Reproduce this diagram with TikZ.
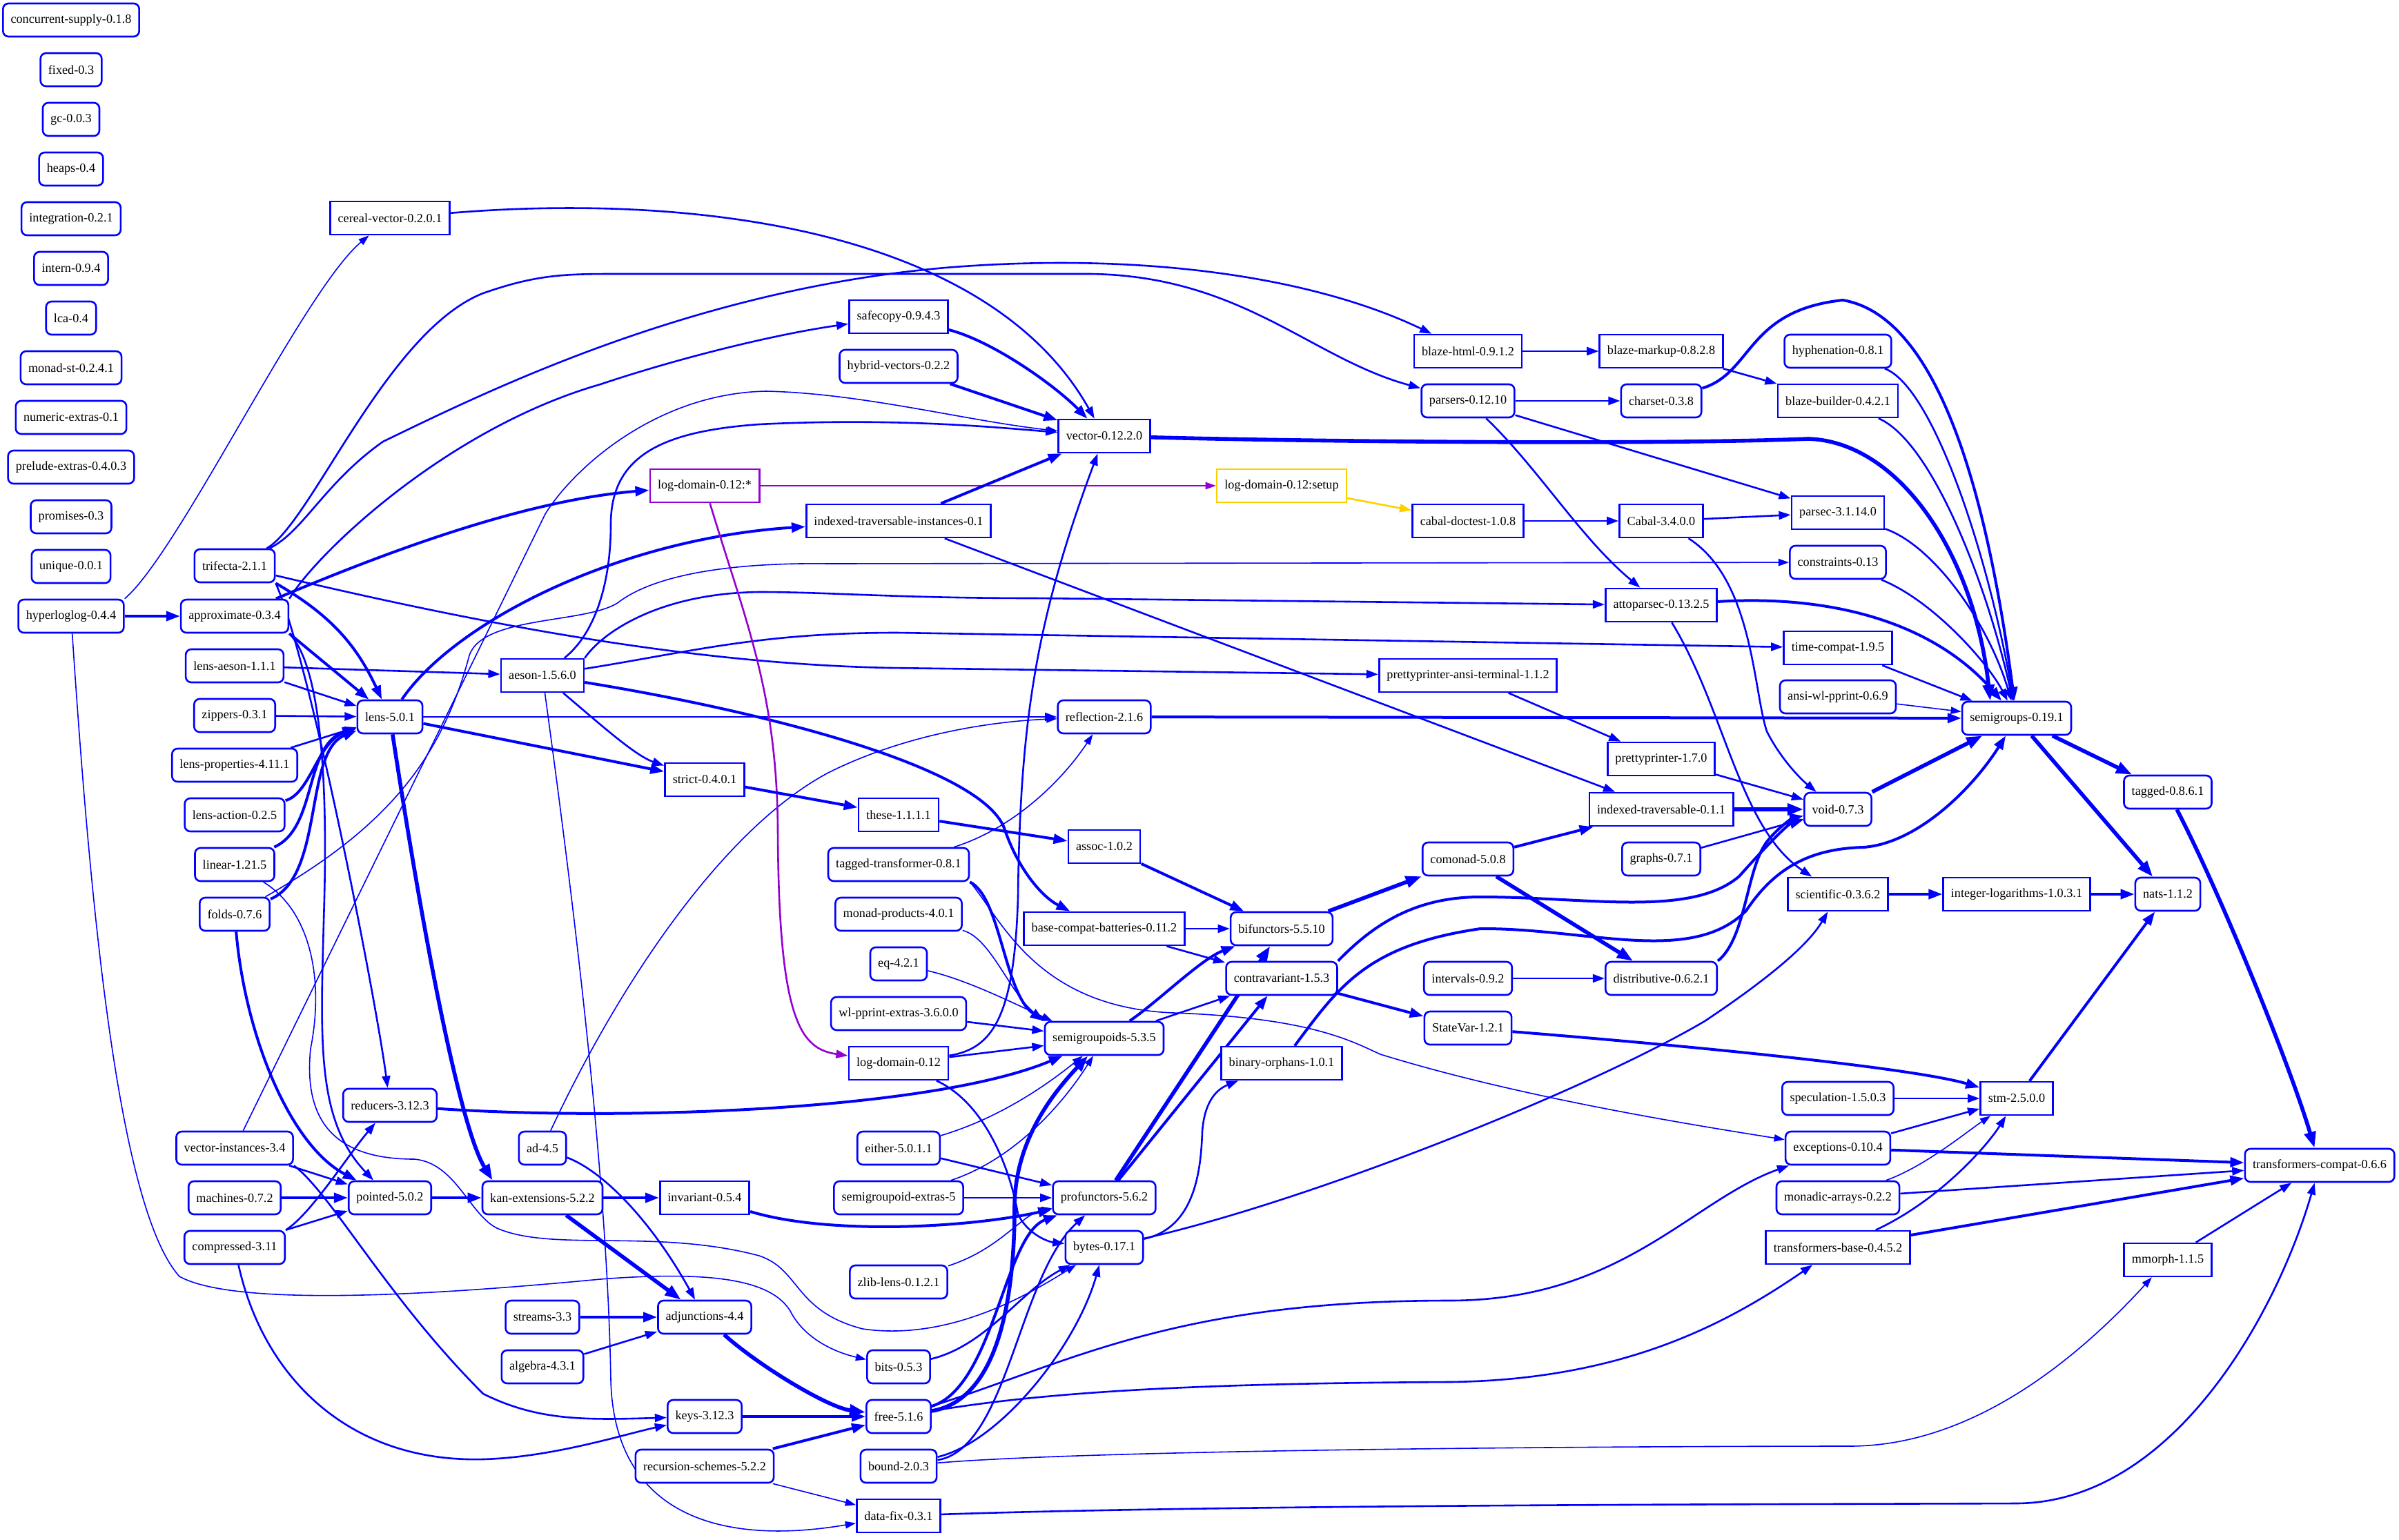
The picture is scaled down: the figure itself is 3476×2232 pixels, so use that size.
\documentclass[tikz,border=0pt]{standalone}
\usepackage{fontspec}
\setmainfont{Liberation Serif}
\usetikzlibrary{arrows.meta,backgrounds}

\definecolor{logpurple}{RGB}{148,0,211}
\definecolor{setupgold}{RGB}{255,208,0}

\tikzset{
	pkg/.style={draw=blue, line width=1.3pt, rounded corners=4pt, fill=white,
		minimum height=24pt, inner xsep=5.6pt, inner ysep=0pt,
		font=\fontsize{9.1}{10}\selectfont},
	lib/.style={pkg, sharp corners},
	dep/.style={draw=blue, -{Triangle[length=6pt 2, width=4pt 1.5]}},
	lite/.style={dep, line width=0.8pt},
	mid/.style={dep, line width=1.3pt},
	strong/.style={dep, line width=2pt},
	heavy/.style={dep, line width=2.8pt},
}

\begin{document}
\begin{tikzpicture}[x=0.5pt, y=-0.5pt]

	\useasboundingbox (0,0) rectangle (3476,2232);

% Paquetes sueltos
	\foreach \nm/\lbl [count=\i from 0] in {csupply/concurrent-supply-0.1.8, fixed/fixed-0.3,
		gc/gc-0.0.3, heaps/heaps-0.4, integration/integration-0.2.1, intern/intern-0.9.4,
		lca/lca-0.4, monadst/monad-st-0.2.4.1, numextras/numeric-extras-0.1,
		prelextras/prelude-extras-0.4.0.3, promises/promises-0.3, unique/unique-0.0.1}
		\node[pkg] (\nm) at (103,{29+72*\i}) {\lbl};

% Columnas 1 a 4
	\node[pkg] (hll) at (103,893) {hyperloglog-0.4.4};
	\node[lib] (cereal) at (565,316) {cereal-vector-0.2.0.1};
	\node[pkg] (trifecta) at (340,820) {trifecta-2.1.1};
	\node[pkg] (approx) at (340,893) {approximate-0.3.4};
	\node[pkg] (lensaeson) at (340,965) {lens-aeson-1.1.1};
	\node[pkg] (zippers) at (340,1037) {zippers-0.3.1};
	\node[pkg] (lensprop) at (340,1109) {lens-properties-4.11.1};
	\node[pkg] (lensaction) at (340,1181) {lens-action-0.2.5};
	\node[pkg] (linear) at (340,1253) {linear-1.21.5};
	\node[pkg] (folds) at (340,1325) {folds-0.7.6};
	\node[pkg] (vecinst) at (340,1664) {vector-instances-3.4};
	\node[pkg] (machines) at (340,1736) {machines-0.7.2};
	\node[pkg] (compressed) at (340,1808) {compressed-3.11};
	\node[pkg] (lens) at (565,1039) {lens-5.0.1};
	\node[pkg] (reducers) at (565,1602) {reducers-3.12.3};
	\node[pkg] (pointed) at (565,1736) {pointed-5.0.2};
	\node[lib] (aeson) at (786,979) {aeson-1.5.6.0};
	\node[pkg] (ad) at (786,1664) {ad-4.5};
	\node[pkg] (kan) at (786,1736) {kan-extensions-5.2.2};
	\node[pkg] (streams) at (786,1909) {streams-3.3};
	\node[pkg] (algebra) at (786,1981) {algebra-4.3.1};

% Columnas 5 a 8
	\node[lib, draw=logpurple] (logstar) at (1021,704) {log-domain-0.12:*};
	\node[lib] (strict) at (1021,1130) {strict-0.4.0.1};
	\node[lib] (invariant) at (1021,1736) {invariant-0.5.4};
	\node[pkg] (adjunctions) at (1021,1909) {adjunctions-4.4};
	\node[pkg] (keys) at (1021,2053) {keys-3.12.3};
	\node[pkg] (recschemes) at (1021,2125) {recursion-schemes-5.2.2};
	\node[lib] (safecopy) at (1302,459) {safecopy-0.9.4.3};
	\node[pkg] (hybrid) at (1302,531) {hybrid-vectors-0.2.2};
	\node[lib] (iti) at (1302,755) {indexed-traversable-instances-0.1};
	\node[lib] (these) at (1302,1181) {these-1.1.1.1};
	\node[pkg] (taggedtr) at (1302,1253) {tagged-transformer-0.8.1};
	\node[pkg] (monadprod) at (1302,1325) {monad-products-4.0.1};
	\node[pkg] (eq) at (1302,1397) {eq-4.2.1};
	\node[pkg] (wlpprint) at (1302,1469) {wl-pprint-extras-3.6.0.0};
	\node[lib] (logdomain) at (1302,1541) {log-domain-0.12};
	\node[pkg] (either) at (1302,1664) {either-5.0.1.1};
	\node[pkg] (sgextras) at (1302,1736) {semigroupoid-extras-5};
	\node[pkg] (zliblens) at (1302,1858) {zlib-lens-0.1.2.1};
	\node[pkg] (bits) at (1302,1981) {bits-0.5.3};
	\node[pkg] (free) at (1302,2053) {free-5.1.6};
	\node[pkg] (bound) at (1302,2125) {bound-2.0.3};
	\node[lib] (datafix) at (1302,2197) {data-fix-0.3.1};
	\node[lib] (vector) at (1600,632) {vector-0.12.2.0};
	\node[pkg] (reflection) at (1600,1039) {reflection-2.1.6};
	\node[lib] (assoc) at (1600,1227) {assoc-1.0.2};
	\node[lib] (bcb) at (1600,1346) {base-compat-batteries-0.11.2};
	\node[pkg] (sgoids) at (1600,1505) {semigroupoids-5.3.5};
	\node[pkg] (profunctors) at (1600,1736) {profunctors-5.6.2};
	\node[pkg] (bytes) at (1600,1808) {bytes-0.17.1};
	\node[lib, draw=setupgold] (logsetup) at (1857,704) {log-domain-0.12:setup};
	\node[pkg] (bifunctors) at (1857,1346) {bifunctors-5.5.10};
	\node[pkg] (contravariant) at (1857,1418) {contravariant-1.5.3};
	\node[lib] (binorph) at (1857,1541) {binary-orphans-1.0.1};

% Columnas 9 a 14
	\node[lib] (blazehtml) at (2127,509) {blaze-html-0.9.1.2};
	\node[pkg] (parsers) at (2127,581) {parsers-0.12.10};
	\node[lib] (cabaldoctest) at (2127,755) {cabal-doctest-1.0.8};
	\node[lib] (ppat) at (2127,979) {prettyprinter-ansi-terminal-1.1.2};
	\node[pkg] (comonad) at (2127,1245) {comonad-5.0.8};
	\node[pkg] (intervals) at (2127,1418) {intervals-0.9.2};
	\node[pkg] (statevar) at (2127,1490) {StateVar-1.2.1};
	\node[lib] (blazemarkup) at (2407,509) {blaze-markup-0.8.2.8};
	\node[pkg] (charset) at (2407,581) {charset-0.3.8};
	\node[lib] (cabal) at (2407,755) {Cabal-3.4.0.0};
	\node[lib] (attoparsec) at (2407,877) {attoparsec-0.13.2.5};
	\node[lib] (pp) at (2407,1100) {prettyprinter-1.7.0};
	\node[lib] (itrav) at (2407,1173) {indexed-traversable-0.1.1};
	\node[pkg] (graphs) at (2407,1245) {graphs-0.7.1};
	\node[pkg] (distributive) at (2407,1418) {distributive-0.6.2.1};
	\node[pkg] (hyphenation) at (2663,509) {hyphenation-0.8.1};
	\node[lib] (blazebuilder) at (2663,581) {blaze-builder-0.4.2.1};
	\node[lib] (parsec) at (2663,743) {parsec-3.1.14.0};
	\node[pkg] (constraints) at (2663,815) {constraints-0.13};
	\node[lib] (timecompat) at (2663,939) {time-compat-1.9.5};
	\node[pkg] (ansiwl) at (2663,1010) {ansi-wl-pprint-0.6.9};
	\node[pkg] (void) at (2663,1173) {void-0.7.3};
	\node[lib] (scientific) at (2663,1296) {scientific-0.3.6.2};
	\node[pkg] (speculation) at (2663,1592) {speculation-1.5.0.3};
	\node[pkg] (exceptions) at (2663,1664) {exceptions-0.10.4};
	\node[pkg] (monarrays) at (2663,1736) {monadic-arrays-0.2.2};
	\node[lib] (transbase) at (2663,1808) {transformers-base-0.4.5.2};
	\node[pkg] (semigroups) at (2922,1041) {semigroups-0.19.1};
	\node[lib] (intlog) at (2922,1296) {integer-logarithms-1.0.3.1};
	\node[lib] (stm) at (2922,1592) {stm-2.5.0.0};
	\node[pkg] (tagged) at (3141,1148) {tagged-0.8.6.1};
	\node[pkg] (nats) at (3141,1296) {nats-1.1.2};
	\node[lib] (mmorph) at (3141,1826) {mmorph-1.1.5};
	\node[pkg] (transcompat) at (3361,1689) {transformers-compat-0.6.6};

\begin{scope}[on background layer]
% Dependencias, lado izquierdo
	\draw[strong] (hll) -- (approx);
	\draw[lite] (hll.north east) .. controls (260,800) and (440,420) .. (cereal);
	\draw[lite] (hll) .. controls (130,1300) and (170,1750) .. (260,1850) .. controls (350,1900) and (700,1870) .. (870,1854) .. controls (1050,1840) and (1120,1860) .. (1145,1900) .. controls (1165,1940) and (1210,1960) .. (bits);
	\draw[strong] (trifecta.south east) to[out=-30,in=115] (lens);
	\draw[mid] (trifecta.south east) .. controls (450,960) and (545,1450) .. (reducers);
	\draw[mid] (trifecta) .. controls (700,905) and (1000,962) .. (1290,968) -- (ppat);
	\draw[mid] (trifecta) .. controls (440,770) and (470,700) .. (555,640) .. controls (700,570) and (1000,420) .. (1370,388) .. controls (1650,365) and (1900,400) .. (blazehtml);
	\draw[mid] (trifecta) .. controls (450,760) and (560,480) .. (700,425) .. controls (780,397) and (820,397) .. (900,397) -- (1580,397) .. controls (1800,400) and (1900,520) .. (parsers);
	\draw[strong] (approx.south east) -- (lens);
	\draw[strong] (approx) .. controls (560,800) and (760,725) .. (logstar);
	\draw[mid] (approx.north east) .. controls (460,800) and (650,620) .. (870,557) .. controls (980,520) and (1120,485) .. (safecopy);
	\draw[mid] (approx.south east) .. controls (460,960) and (475,1100) .. (470,1300) .. controls (465,1500) and (455,1620) .. (pointed);
	\draw[mid] (lensaeson) -- (lens);
	\draw[mid] (lensaeson) -- (aeson);
	\draw[mid] (zippers) -- (lens);
	\draw[mid] (lensprop) -- (lens);
	\draw[strong] (lensaction) .. controls (450,1150) and (460,1075) .. (lens);
	\draw[strong] (linear) .. controls (460,1200) and (440,1080) .. (lens);
	\draw[strong] (folds) .. controls (470,1270) and (440,1090) .. (lens);
	\draw[strong] (folds) .. controls (355,1500) and (420,1660) .. (pointed);
	\draw[lite] (folds) .. controls (560,1200) and (640,1100) .. (680,950) .. controls (700,890) and (860,905) .. (900,870) .. controls (950,835) and (1050,815) .. (1200,817) -- (constraints);
	\draw[lite] (linear) .. controls (450,1320) and (470,1420) .. (450,1520) .. controls (440,1620) and (480,1680) .. (600,1680) .. controls (660,1685) and (680,1760) .. (720,1780) .. controls (800,1815) and (950,1780) .. (1100,1820) .. controls (1160,1840) and (1150,1900) .. (1250,1926) .. controls (1380,1945) and (1500,1870) .. (bytes);
	\draw[strong] (lens) .. controls (660,900) and (900,780) .. (iti);
	\draw[mid] (lens) -- (reflection);
	\draw[strong] (lens) -- (strict);
	\draw[heavy] (lens) .. controls (620,1400) and (670,1640) .. ([xshift=8pt]kan.north west);
	\draw[mid] (aeson) .. controls (860,920) and (885,850) .. (885,760) .. controls (885,660) and (960,625) .. (1100,615) .. controls (1300,605) and (1450,620) .. (vector);
	\draw[mid] (aeson) .. controls (870,1050) and (920,1095) .. (strict);
	\draw[mid] (aeson.north east) .. controls (870,920) and (950,860) .. (1100,858) .. controls (1200,858) and (1300,867) .. (1500,867) -- (attoparsec);
	\draw[mid] (aeson) .. controls (1000,945) and (1100,917) .. (1300,917) -- (timecompat);
	\draw[strong] (aeson) .. controls (1100,1030) and (1420,1110) .. (1455,1200) .. controls (1475,1260) and (1510,1300) .. (bcb);
	\draw[lite] (aeson) .. controls (830,1300) and (880,1700) .. (885,2000) .. controls (890,2200) and (1050,2240) .. (datafix);
	\draw[lite] (vecinst) -- (790,745) .. controls (830,680) and (950,570) .. (1110,567) .. controls (1250,570) and (1400,610) .. (vector);
	\draw[mid] (vecinst) -- (pointed);
	\draw[mid] (vecinst.south east) .. controls (480,1730) and (560,1880) .. (700,2020) .. controls (780,2060) and (850,2058) .. (keys);
	\draw[strong] (machines) -- (pointed);
	\draw[mid] (compressed.north east) -- (pointed);
	\draw[mid] (compressed.north east) .. controls (450,1760) and (500,1680) .. (reducers);
	\draw[mid] (compressed) .. controls (380,1990) and (500,2120) .. (700,2115) .. controls (800,2112) and (900,2080) .. (keys);
	\draw[strong] (pointed) -- (kan);
	\draw[heavy] (kan) -- (adjunctions);
	\draw[strong] (kan) -- (invariant);
	\draw[mid] (ad) .. controls (880,1700) and (950,1780) .. (adjunctions);
	\draw[lite] (ad) .. controls (900,1420) and (1050,1200) .. (1200,1120) .. controls (1320,1060) and (1450,1045) .. (reflection);
	\draw[strong] (streams) -- (adjunctions);
	\draw[mid] (algebra) -- (adjunctions);

% Dependencias, centro
	\draw[heavy] (adjunctions) .. controls (1100,1980) and (1200,2040) .. (free);
	\draw[strong] (keys) -- (free);
	\draw[strong] (recschemes) -- (free);
	\draw[lite] (recschemes) -- (datafix);
	\draw[strong] (invariant) .. controls (1200,1790) and (1400,1780) .. (profunctors);
	\draw[lite, draw=logpurple] (logstar) -- (logsetup);
	\draw[mid, draw=logpurple] (logstar) .. controls (1080,900) and (1125,1000) .. (1127,1200) .. controls (1128,1480) and (1160,1520) .. (logdomain);
	\draw[mid, draw=setupgold] (logsetup) -- (cabaldoctest);
	\draw[strong] (safecopy) .. controls (1440,495) and (1530,560) .. (vector);
	\draw[strong] (hybrid) -- (vector);
	\draw[strong] (iti) -- (vector);
	\draw[mid] (cereal) .. controls (1000,280) and (1430,330) .. (vector);
	\draw[mid] (iti) -- (itrav);
	\draw[strong] (strict) -- (these);
	\draw[strong] (these) -- (assoc);
	\draw[strong] (assoc) -- (bifunctors);
	\draw[mid] (bcb) -- (bifunctors);
	\draw[mid] (bcb) -- (contravariant);
	\draw[lite] (taggedtr) .. controls (1470,1200) and (1540,1130) .. (reflection);
	\draw[strong] (taggedtr.south east) .. controls (1450,1300) and (1455,1440) .. (sgoids.north west);
	\draw[lite] (taggedtr.south east) .. controls (1450,1330) and (1500,1460) .. (1700,1468) .. controls (1900,1475) and (1960,1510) .. (2000,1528) .. controls (2200,1590) and (2450,1630) .. (exceptions);
	\draw[lite] (monadprod) .. controls (1440,1360) and (1470,1460) .. ([xshift=6pt]sgoids.north west);
	\draw[lite] (eq) .. controls (1400,1420) and (1460,1450) .. ([xshift=6pt]sgoids.north west);
	\draw[mid] (wlpprint) -- (sgoids);
	\draw[mid] (logdomain) -- (sgoids);
	\draw[mid] (logdomain) .. controls (1440,1520) and (1470,1470) .. (1475,1300) .. controls (1478,1050) and (1500,900) .. (vector);
	\draw[mid] (logdomain) .. controls (1430,1600) and (1465,1700) .. (1475,1760) .. controls (1490,1790) and (1520,1800) .. (bytes);
	\draw[strong] (reducers) .. controls (900,1625) and (1350,1610) .. (sgoids);
	\draw[lite] (either) .. controls (1450,1620) and (1520,1570) .. (sgoids);
	\draw[mid] (either) -- (profunctors);
	\draw[lite] (sgextras) .. controls (1470,1680) and (1540,1600) .. (sgoids);
	\draw[mid] (sgextras) -- (profunctors);
	\draw[lite] (zliblens) .. controls (1450,1810) and (1480,1760) .. (profunctors);
	\draw[heavy] (free) .. controls (1440,2030) and (1470,1900) .. (1470,1750) .. controls (1470,1650) and (1530,1580) .. (sgoids);
	\draw[strong] (free) .. controls (1440,2010) and (1455,1790) .. (profunctors);
	\draw[mid] (free) .. controls (1550,1975) and (1700,1885) .. (2100,1885) .. controls (2350,1885) and (2450,1740) .. (exceptions);
	\draw[mid] (free) .. controls (1500,2020) and (1700,2005) .. (2100,2003) .. controls (2350,2000) and (2500,1920) .. (transbase);
	\draw[mid] (bits) .. controls (1430,1950) and (1480,1870) .. (bytes);
	\draw[mid] (bound) .. controls (1450,2090) and (1560,1950) .. (bytes);
	\draw[mid] (bound) .. controls (1460,2100) and (1475,1850) .. (profunctors);
	\draw[lite] (bound) .. controls (1600,2100) and (2400,2096) .. (2680,2096) .. controls (2850,2096) and (3000,1980) .. (mmorph);
	\draw[mid] (datafix) .. controls (1800,2180) and (2700,2180) .. (2920,2179) .. controls (3150,2179) and (3300,1900) .. (transcompat);
	\draw[mid] (bytes) .. controls (1730,1780) and (1740,1700) .. (1742,1640) .. controls (1745,1600) and (1760,1580) .. (binorph);
	\draw[mid] (bytes) .. controls (1900,1740) and (2300,1580) .. (2470,1480) .. controls (2560,1420) and (2620,1370) .. (scientific);
	\draw[heavy] (profunctors) -- (bifunctors);
	\draw[strong] (profunctors) -- (contravariant);
	\draw[strong] (sgoids) .. controls (1680,1450) and (1740,1390) .. (bifunctors);
	\draw[mid] (sgoids) -- (contravariant);

% Dependencias, lado derecho
	\draw[mid] (cabaldoctest) -- (cabal);
	\draw[mid] (cabal) -- (parsec);
	\draw[mid] (cabal) .. controls (2540,840) and (2540,1000) .. (2560,1060) .. controls (2580,1100) and (2610,1130) .. (void);
	\draw[mid] (parsers) -- (charset);
	\draw[mid] (parsers) -- (parsec);
	\draw[mid] (parsers) .. controls (2230,680) and (2290,780) .. (attoparsec);
	\draw[mid] (blazehtml) -- (blazemarkup);
	\draw[mid] (blazemarkup) -- (blazebuilder);
	\draw[strong] (charset) .. controls (2540,540) and (2530,450) .. (2670,435) .. controls (2820,460) and (2885,760) .. (semigroups);
	\draw[mid] (hyphenation) .. controls (2800,560) and (2880,800) .. (semigroups);
	\draw[mid] (blazebuilder) .. controls (2800,640) and (2880,850) .. (semigroups);
	\draw[heavy] (vector) .. controls (1900,640) and (2400,645) .. (2620,636) .. controls (2750,640) and (2860,800) .. ([xshift=21pt]semigroups.north west);
	\draw[mid] (parsec) .. controls (2800,790) and (2880,900) .. (semigroups);
	\draw[mid] (constraints) .. controls (2800,870) and (2880,960) .. (semigroups);
	\draw[strong] (attoparsec) .. controls (2650,862) and (2800,900) .. (semigroups);
	\draw[mid] (timecompat) -- (semigroups);
	\draw[lite] (ansiwl) -- (semigroups);
	\draw[strong] (reflection) -- (semigroups);
	\draw[heavy] (void) -- (semigroups);
	\draw[strong] (binorph) .. controls (1940,1430) and (1980,1370) .. (2145,1346) .. controls (2300,1345) and (2450,1400) .. (2530,1320) .. controls (2570,1260) and (2620,1230) .. (2700,1228) .. controls (2780,1222) and (2860,1140) .. (semigroups);
	\draw[strong] (contravariant.north east) .. controls (1990,1340) and (2050,1300) .. (2145,1300) .. controls (2300,1300) and (2450,1330) .. (2520,1270) .. controls (2560,1225) and (2590,1195) .. (void);
	\draw[strong] (distributive.north east) .. controls (2530,1360) and (2530,1260) .. (2560,1220) .. controls (2580,1195) and (2600,1185) .. (void);
	\draw[mid] (ppat) -- (pp);
	\draw[mid] (pp) -- (void);
	\draw[heavy] (itrav) -- (void);
	\draw[mid] (graphs) -- (void);
	\draw[strong] (comonad) -- (itrav);
	\draw[heavy] (comonad) -- (distributive);
	\draw[mid] (intervals) -- (distributive);
	\draw[heavy] (bifunctors) -- (comonad);
	\draw[strong] (contravariant) -- (statevar);
	\draw[strong] (statevar) .. controls (2500,1520) and (2780,1550) .. (stm);
	\draw[mid] (attoparsec) .. controls (2500,1030) and (2520,1200) .. (scientific);
	\draw[strong] (scientific) -- (intlog);
	\draw[strong] (intlog) -- (nats);
	\draw[heavy] (semigroups) -- (tagged);
	\draw[heavy] (semigroups) -- (nats);
	\draw[heavy] (tagged) .. controls (3220,1300) and (3320,1550) .. (transcompat);
	\draw[strong] (stm) -- (nats);
	\draw[mid] (speculation) -- (stm);
	\draw[mid] (exceptions) -- (stm);
	\draw[lite] (monarrays) .. controls (2790,1690) and (2850,1640) .. (stm);
	\draw[mid] (transbase) .. controls (2810,1740) and (2880,1660) .. (stm);
	\draw[strong] (exceptions) -- (transcompat);
	\draw[mid] (monarrays) -- (transcompat);
	\draw[strong] (transbase) -- (transcompat);
	\draw[mid] (mmorph) -- (transcompat);
\end{scope}
\end{tikzpicture}
\end{document}
